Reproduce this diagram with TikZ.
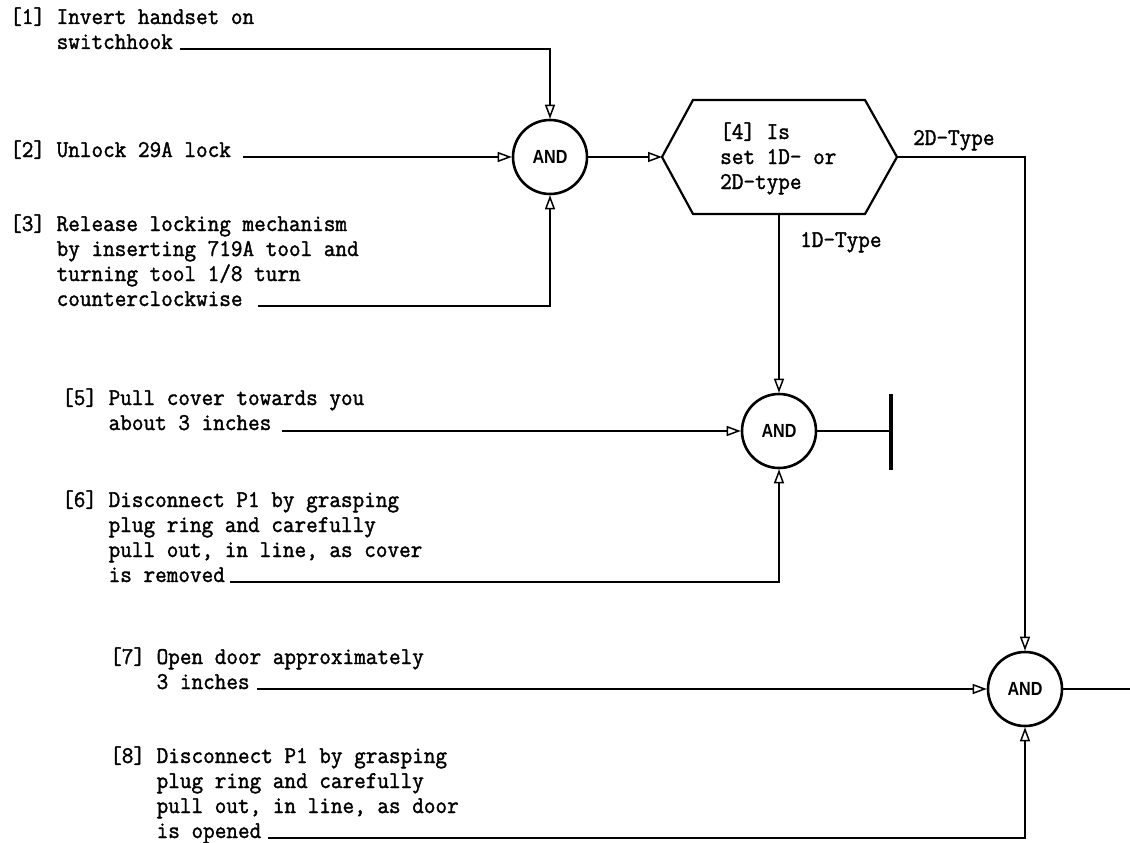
\documentclass[tikz,border=0pt]{standalone}
\usepackage{fontspec}
\newfontfamily\andfont{Liberation Sans}[FakeStretch=0.85]
\newfontfamily\monofont{Latin Modern Mono}[FakeBold=1.5,FakeStretch=0.94]
\usetikzlibrary{arrows.meta}
\newcommand\ind{\phantom{[0]}\ }
\begin{document}
\begin{tikzpicture}[x=1pt,y=-1pt,
  txt/.style={anchor=base west, inner sep=0pt, align=left, font=\fontsize{24}{25}\selectfont\monofont},
  gate/.style={circle, draw, line width=2.6pt, minimum size=74pt, inner sep=0pt, font=\fontsize{19}{19}\selectfont\andfont\bfseries},
  conn/.style={line width=1.9pt},
  arr/.style={conn, -{Triangle[open, length=14pt, width=10pt, line width=1.5pt]}},
  hexa/.style={line width=2.2pt, line join=miter},
  stopbar/.style={line width=4pt}
]
\useasboundingbox (0,0) rectangle (1130,843);

% gates
\node[gate] (g1) at (550,157) {AND};
\node[gate] (g2) at (779,431) {AND};
\node[gate] (g3) at (1025,689) {AND};

% texts (anchored at the baseline of their last line)
\node[txt] (t1) at (10,49) {[1] Invert handset on\\\ind switchhook};
\node[txt] (t2) at (10,157) {[2] Unlock 29A lock};
\node[txt] (t3) at (10,306) {[3] Release locking mechanism\\\ind by inserting 719A tool and\\\ind turning tool 1/8 turn\\\ind counterclockwise};
\node[txt] (t5) at (62,430) {[5] Pull cover towards you\\\ind about 3 inches};
\node[txt] (t6) at (62,582) {[6] Disconnect P1 by grasping\\\ind plug ring and carefully\\\ind pull out, in line, as cover\\\ind is removed};
\node[txt] (t7) at (110,689) {[7] Open door approximately\\\ind 3 inches};
\node[txt] (t8) at (110,838) {[8] Disconnect P1 by grasping\\\ind plug ring and carefully\\\ind pull out, in line, as door\\\ind is opened};

% hexagon decision
\coordinate (hl) at (662,157);
\coordinate (htl) at (693,100);
\coordinate (htr) at (865,100);
\coordinate (hr) at (897,157);
\coordinate (hbr) at (865,214);
\coordinate (hbl) at (693,214);
\coordinate (hb) at (779,214);
\draw[hexa] (hl) -- (htl) -- (htr) -- (hr) -- (hbr) -- (hbl) -- cycle;
\node[txt] (t4) at (720,189) {[4] Is\\set 1D- or\\2D-type};
\node[txt] (l1) at (800,247) {1D-Type};
\node[txt] (l2) at (913,145) {2D-Type};

% underline starts
\coordinate (u1) at (180,49);
\coordinate (u2) at (243,157);
\coordinate (u3) at (258,306);
\coordinate (u5) at (282,431);
\coordinate (u6) at (230,582);
\coordinate (u7) at (257,689);
\coordinate (u8) at (268,838);

% connectors
\draw[arr] (u1) -| (g1.north);
\draw[arr] (u2) -- (g1.west);
\draw[arr] (u3) -| (g1.south);
\draw[arr] (g1.east) -- (hl);
\draw[arr] (hb) -- (g2.north);
\draw[arr] (hr) -| (g3.north);
\draw[arr] (u5) -- (g2.west);
\draw[arr] (u6) -| (g2.south);
\draw[arr] (u7) -- (g3.west);
\draw[arr] (u8) -| (g3.south);

% stop bar
\coordinate (bar) at (891,431);
\coordinate (bart) at (891,394);
\coordinate (barb) at (891,470);
\draw[conn] (g2.east) -- (bar);
\draw[stopbar] (bart) -- (barb);

% output
\coordinate (out) at (1130,689);
\draw[conn] (g3.east) -- (out);
\end{tikzpicture}
\end{document}
